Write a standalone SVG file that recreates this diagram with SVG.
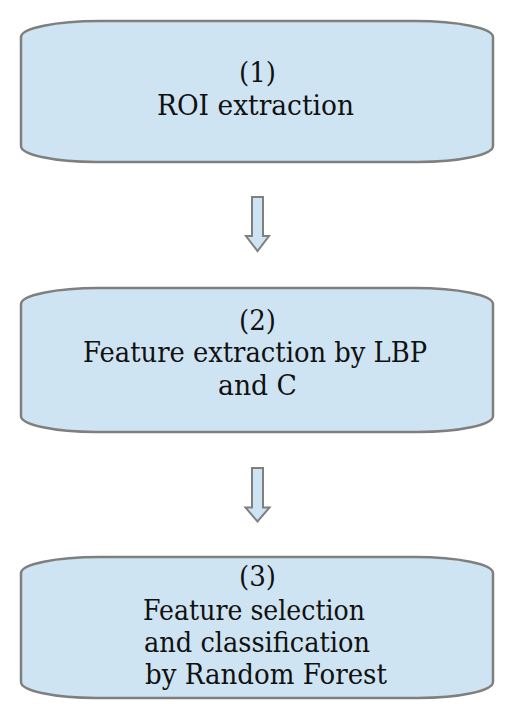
<svg xmlns="http://www.w3.org/2000/svg" width="515" height="719" viewBox="0 0 515 719">
<style>
.box{fill:#cfe4f2;stroke:#7f7f7f;stroke-width:2.5}
.arr{fill:#cfe4f2;stroke:#7f7f7f;stroke-width:2;stroke-linejoin:miter}
.t{font-family:"DejaVu Serif","Liberation Serif","Noto Serif",Tinos,serif;font-size:28px;fill:#111}
</style>
<rect width="515" height="719" fill="#ffffff"/>
<g id="node1">
<path class="box" d="M21,37 A78,16 0 0 1 99,21 L415,21 A78,16 0 0 1 493,37 L493,146 A75,16 0 0 1 418,162 L96,162 A75,16 0 0 1 21,146 Z"/>
<text class="t" x="239" y="82" textLength="37" lengthAdjust="spacingAndGlyphs">(1)</text>
<text class="t" x="157" y="115" textLength="197" lengthAdjust="spacingAndGlyphs">ROI extraction</text>
</g>
<g id="node2">
<path class="box" d="M21,304 A78,16 0 0 1 99,288 L415,288 A78,16 0 0 1 493,304 L493,416 A75,16 0 0 1 418,432 L96,432 A75,16 0 0 1 21,416 Z"/>
<text class="t" x="239" y="330" textLength="37" lengthAdjust="spacingAndGlyphs">(2)</text>
<text class="t" x="83" y="362" textLength="344" lengthAdjust="spacingAndGlyphs">Feature extraction by LBP</text>
<text class="t" x="218" y="395" textLength="79" lengthAdjust="spacingAndGlyphs">and C</text>
</g>
<g id="node3">
<path class="box" d="M21,573 A78,16 0 0 1 99,557 L415,557 A78,16 0 0 1 493,573 L493,682 A75,16 0 0 1 418,698 L96,698 A75,16 0 0 1 21,682 Z"/>
<text class="t" x="239" y="586" textLength="37" lengthAdjust="spacingAndGlyphs">(3)</text>
<text class="t" x="143" y="620" textLength="222" lengthAdjust="spacingAndGlyphs">Feature selection</text>
<text class="t" x="144" y="652" textLength="226" lengthAdjust="spacingAndGlyphs">and classification</text>
<text class="t" x="145" y="684" textLength="242" lengthAdjust="spacingAndGlyphs">by Random Forest</text>
</g>
<g id="connectors">
<path class="arr" d="M252,197 L263,197 L263,236 L269,236 L257.5,251 L246,236 L252,236 Z"/>
<path class="arr" d="M252,468 L263,468 L263,507.5 L269.5,507.5 L257.5,521.5 L245.5,507.5 L252,507.5 Z"/>
</g>
</svg>
